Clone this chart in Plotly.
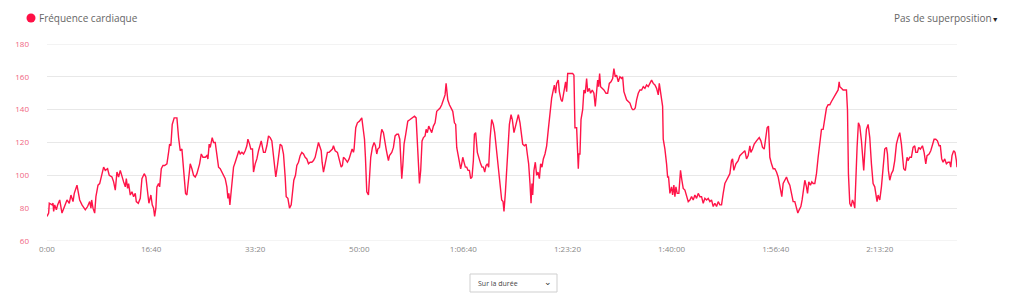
import plotly.graph_objects as go

# elapsed time (seconds) and heart-rate (bpm)
seconds = [
    0, 16, 22, 48, 58, 64, 74, 90, 102, 122, 144, 166, 192, 214, 230, 250, 262, 288, 314, 336,
    368, 390, 410, 422, 429, 442, 458, 470, 490, 506, 528, 544, 560, 582, 598, 624, 640, 656, 672, 688,
    704, 720, 736, 752, 762, 774, 784, 800, 816, 832, 848, 858, 877, 896, 912, 934, 950, 966, 979, 998,
    1011, 1024, 1034, 1046, 1056, 1072, 1082, 1098, 1114, 1130, 1152, 1168, 1178, 1190, 1203, 1222, 1248, 1264, 1280, 1296,
    1312, 1322, 1331, 1344, 1360, 1376, 1392, 1408, 1424, 1440, 1466, 1482, 1498, 1520, 1536, 1546, 1558, 1568, 1587, 1600,
    1616, 1632, 1648, 1664, 1680, 1696, 1712, 1728, 1738, 1747, 1757, 1766, 1776, 1792, 1808, 1824, 1843, 1856, 1872, 1888,
    1904, 1920, 1930, 1946, 1958, 1974, 1984, 2000, 2016, 2032, 2048, 2058, 2070, 2080, 2096, 2112, 2128, 2144, 2160, 2176,
    2189, 2198, 2214, 2227, 2240, 2256, 2272, 2288, 2298, 2314, 2330, 2346, 2358, 2371, 2387, 2400, 2416, 2432, 2448, 2464,
    2480, 2496, 2512, 2528, 2544, 2560, 2576, 2592, 2608, 2624, 2634, 2643, 2656, 2672, 2682, 2694, 2710, 2726, 2742, 2752,
    2768, 2790, 2826, 2838, 2848, 2864, 2886, 2902, 2918, 2931, 2944, 2950, 2966, 2982, 3002, 3024, 3040, 3050, 3059, 3072,
    3088, 3098, 3110, 3126, 3142, 3155, 3168, 3178, 3194, 3206, 3216, 3232, 3242, 3258, 3270, 3280, 3290, 3312, 3328, 3344,
    3360, 3376, 3389, 3398, 3408, 3418, 3430, 3446, 3466, 3488, 3514, 3530, 3546, 3558, 3571, 3578, 3590, 3603, 3616, 3632,
    3642, 3654, 3667, 3680, 3696, 3712, 3728, 3744, 3760, 3776, 3792, 3808, 3824, 3834, 3840, 3850, 3866, 3882, 3898, 3914,
    3926, 3936, 3952, 3962, 3974, 3984, 3994, 4006, 4019, 4032, 4045, 4058, 4070, 4083, 4096, 4106, 4118, 4134, 4150, 4166,
    4179, 4192, 4205, 4218, 4230, 4243, 4256, 4272, 4288, 4301, 4314, 4326, 4339, 4352, 4368, 4381, 4390, 4403, 4416, 4432,
    4442, 4458, 4470, 4486, 4499, 4512, 4528, 4544, 4557, 4570, 4586, 4602, 4614, 4627, 4640, 4650, 4659, 4666, 4678, 4691,
    4704, 4717, 4730, 4742, 4755, 4768, 4784, 4800, 4816, 4832, 4848, 4864, 4874, 4886, 4896, 4912, 4922, 4938, 4950, 4966,
    4982, 4992, 5002, 5024, 5050, 5062, 5072, 5088, 5094, 5104, 5110, 5120, 5130, 5146, 5158, 5171, 5184, 5194, 5210, 5222,
    5238, 5254, 5267, 5280, 5290, 5299, 5309, 5318, 5338, 5350, 5370, 5386, 5402, 5418, 5434, 5446, 5459, 5472, 5488, 5504,
    5520, 5530, 5542, 5555, 5568, 5584, 5600, 5616, 5626, 5638, 5651, 5664, 5680, 5696, 5712, 5728, 5744, 5760, 5776, 5792,
    5808, 5824, 5840, 5856, 5872, 5882, 5898, 5914, 5920, 5936, 5952, 5962, 5971, 5984, 6000, 6010, 6022, 6032, 6042, 6054,
    6070, 6086, 6099, 6112, 6128, 6144, 6160, 6176, 6192, 6208, 6224, 6240, 6256, 6272, 6288, 6304, 6320, 6336, 6352, 6368,
    6384, 6400, 6416, 6432, 6448, 6464, 6480, 6496, 6512, 6528, 6544, 6560, 6576, 6586, 6598, 6618, 6640, 6656, 6672, 6688,
    6704, 6720, 6736, 6752, 6762, 6778, 6794, 6816, 6842, 6858, 6874, 6890, 6906, 6918, 6931, 6944, 6960, 6976, 6992, 7008,
    7024, 7034, 7046, 7059, 7072, 7088, 7104, 7120, 7136, 7152, 7168, 7184, 7200, 7213, 7226, 7242, 7254, 7264, 7280, 7296,
    7306, 7318, 7334, 7347, 7360, 7376, 7392, 7408, 7424, 7440, 7456, 7472, 7488, 7504, 7520, 7536, 7552, 7568, 7584, 7600,
    7610, 7616, 7632, 7648, 7664, 7680, 7690, 7699, 7712, 7725, 7738, 7750, 7760, 7770, 7782, 7795, 7808, 7824, 7834, 7846,
    7859, 7872, 7888, 7904, 7920, 7936, 7952, 7962, 7974, 7984, 8000, 8016, 8032, 8048, 8064, 8074, 8083, 8096, 8112, 8128,
    8144, 8160, 8176, 8192, 8208, 8218, 8230, 8246, 8262, 8272, 8288, 8304, 8320, 8336, 8346, 8362, 8374, 8390, 8410, 8426,
    8442, 8454, 8474, 8490, 8506, 8522, 8538, 8554, 8570, 8582, 8595, 8608, 8624, 8640, 8656, 8672, 8682, 8694, 8710, 8723,
    8736, 8742,
]

heart_rate = [
    75, 77, 83, 82, 83, 78, 82, 79, 82, 85, 77, 81, 85, 83, 88, 84, 89, 94, 85, 82,
    79, 81, 84, 80, 85, 80, 77, 87, 94, 95, 100, 105, 103, 104, 100, 99, 96, 91, 102, 99,
    103, 99, 96, 93, 98, 92, 95, 88, 90, 87, 89, 84, 83, 86, 98, 101, 99, 90, 83, 88,
    82, 80, 75, 80, 93, 95, 93, 104, 106, 106, 107, 114, 119, 118, 131, 135, 135, 123, 115, 116,
    104, 100, 89, 88, 99, 107, 104, 100, 99, 101, 107, 113, 111, 111, 112, 110, 119, 117, 123, 120,
    120, 112, 105, 104, 102, 100, 98, 93, 86, 89, 82, 88, 97, 105, 108, 111, 115, 113, 114, 113,
    115, 118, 122, 119, 116, 116, 102, 107, 110, 115, 120, 121, 117, 114, 114, 118, 124, 123, 121, 113,
    103, 99, 106, 114, 119, 118, 113, 99, 87, 86, 80, 82, 90, 97, 100, 106, 108, 112, 114, 113,
    111, 110, 107, 108, 108, 109, 111, 115, 120, 117, 115, 108, 102, 107, 110, 114, 114, 115, 116, 118,
    115, 114, 105, 106, 111, 110, 108, 110, 113, 116, 114, 116, 129, 132, 133, 135, 127, 122, 111, 90,
    88, 97, 111, 117, 120, 118, 113, 116, 117, 124, 128, 126, 123, 116, 112, 109, 112, 114, 117, 124,
    125, 125, 122, 107, 98, 106, 119, 125, 133, 134, 135, 136, 135, 122, 107, 95, 103, 121, 123, 124,
    128, 126, 130, 128, 126, 130, 132, 139, 140, 141, 143, 146, 149, 156, 151, 146, 143, 141, 139, 132,
    131, 117, 112, 107, 104, 107, 111, 108, 105, 105, 103, 103, 98, 99, 109, 125, 126, 114, 110, 107,
    105, 105, 102, 106, 107, 105, 122, 134, 131, 126, 118, 110, 103, 95, 85, 84, 78, 89, 105, 122,
    131, 137, 134, 126, 130, 133, 137, 132, 124, 119, 118, 119, 113, 107, 95, 83, 95, 88, 103, 108,
    100, 102, 98, 107, 105, 110, 113, 118, 128, 140, 147, 152, 155, 150, 156, 158, 151, 146, 145, 151,
    157, 151, 162, 162, 162, 161, 129, 129, 117, 104, 113, 113, 134, 140, 152, 150, 159, 151, 153, 150,
    152, 150, 142, 152, 158, 154, 162, 154, 153, 152, 150, 150, 156, 157, 159, 165, 160, 161, 157, 160,
    159, 160, 151, 148, 146, 145, 144, 141, 140, 140, 141, 146, 150, 152, 152, 154, 153, 155, 154, 156,
    158, 156, 155, 153, 149, 156, 150, 142, 122, 116, 107, 99, 99, 89, 93, 88, 94, 87, 93, 89,
    89, 103, 97, 92, 91, 87, 84, 85, 87, 85, 88, 86, 89, 87, 87, 83, 86, 85, 86, 84,
    85, 81, 83, 81, 84, 82, 82, 89, 95, 97, 99, 101, 109, 110, 103, 107, 109, 112, 113, 114,
    115, 110, 112, 118, 114, 116, 119, 121, 123, 121, 117, 116, 124, 129, 130, 111, 107, 104, 104, 102,
    99, 95, 93, 87, 95, 97, 99, 96, 94, 89, 84, 84, 79, 77, 79, 81, 85, 91, 97, 93,
    89, 96, 94, 96, 95, 95, 101, 111, 121, 128, 128, 134, 141, 143, 143, 145, 147, 148, 151, 152,
    157, 154, 153, 152, 152, 152, 140, 101, 83, 81, 85, 83, 80, 101, 117, 132, 130, 121, 113, 103,
    117, 128, 131, 123, 107, 95, 93, 89, 84, 88, 85, 93, 103, 116, 117, 113, 103, 97, 101, 103,
    109, 119, 123, 126, 119, 109, 104, 103, 111, 109, 111, 111, 117, 118, 114, 114, 117, 116, 118, 114,
    107, 112, 113, 115, 119, 122, 122, 121, 118, 118, 110, 108, 110, 107, 108, 108, 105, 112, 115, 114,
    109, 105,
]

tick_values = [0, 1000, 2000, 3000, 4000, 5000, 6000, 7000, 8000]
tick_labels = ["0:00", "16:40", "33:20", "50:00", "1:06:40", "1:23:20", "1:40:00", "1:56:40", "2:13:20"]
y_ticks = [60, 80, 100, 120, 140, 160, 180]

series_name = "Fréquence cardiaque"
overlay_label = "Pas de superposition"
selector_label = "Sur la durée"

LINE = "#ff1448"
GRID = "#e8e8e8"
W, H = 1021, 305
L, R, T, B = 47, 64, 44, 64
PW, PH = W - L - R, H - T - B


def px(x):
    return (x - L) / PW


def py(y):
    return (H - B - y) / PH


fig = go.Figure()
fig.add_trace(go.Scatter(
    x=seconds, y=heart_rate, mode="lines",
    line=dict(color=LINE, width=1.4),
    name=series_name, showlegend=False,
))

fig.update_layout(
    width=W, height=H,
    margin=dict(l=L, r=R, t=T, b=B),
    paper_bgcolor="white", plot_bgcolor="white",
    font=dict(family="Open Sans", color="#777"),
    xaxis=dict(
        range=[0, seconds[-1]], tickvals=tick_values, ticktext=tick_labels,
        showgrid=False, zeroline=False, showline=False, ticks="",
        tickfont=dict(size=8, color="#888", family="Open Sans"),
        ticklabelstandoff=2,
    ),
    yaxis=dict(
        range=[60, 180], tickvals=y_ticks,
        showgrid=True, gridcolor=GRID, gridwidth=1,
        zeroline=False, showline=False, ticks="",
        tickfont=dict(size=8, color="#f0657f", family="Open Sans"),
        ticklabelstandoff=17,
    ),
)

# edge gridlines (top and bottom of the value range)
for yv in (y_ticks[0], y_ticks[-1]):
    fig.add_shape(type="line", xref="paper", yref="y", x0=0, x1=1, y0=yv, y1=yv,
                  line=dict(color=GRID, width=1), layer="below")

# legend marker + label
fig.add_shape(type="circle", xref="paper", yref="paper",
              x0=px(26.5), x1=px(35.5), y0=py(22.5), y1=py(13.5),
              fillcolor="#ff0f45", line=dict(width=0))
fig.add_annotation(text=series_name, xref="paper", yref="paper",
                   x=px(37), y=py(18), xanchor="left", yanchor="middle",
                   showarrow=False, font=dict(size=10, color="#666"))
fig.add_annotation(text=overlay_label + "<span style='font-size:7px;color:#222'>▼</span>",
                   xref="paper", yref="paper",
                   x=px(1001), y=py(18), xanchor="right", yanchor="middle",
                   showarrow=False, font=dict(size=10, color="#666"))

# selector box
fig.add_shape(type="rect", xref="paper", yref="paper",
              x0=px(470), x1=px(557), y0=py(292), y1=py(274),
              fillcolor="white", line=dict(color="#cfcfcf", width=1))
fig.add_annotation(text=selector_label, xref="paper", yref="paper",
                   x=px(476), y=py(283), xanchor="left", yanchor="middle",
                   showarrow=False, font=dict(size=7, color="#444"))
fig.add_annotation(text="⌄", xref="paper", yref="paper",
                   x=px(548), y=py(281), xanchor="center", yanchor="middle",
                   showarrow=False, font=dict(size=9, color="#333"))

fig.write_html("out.html")
